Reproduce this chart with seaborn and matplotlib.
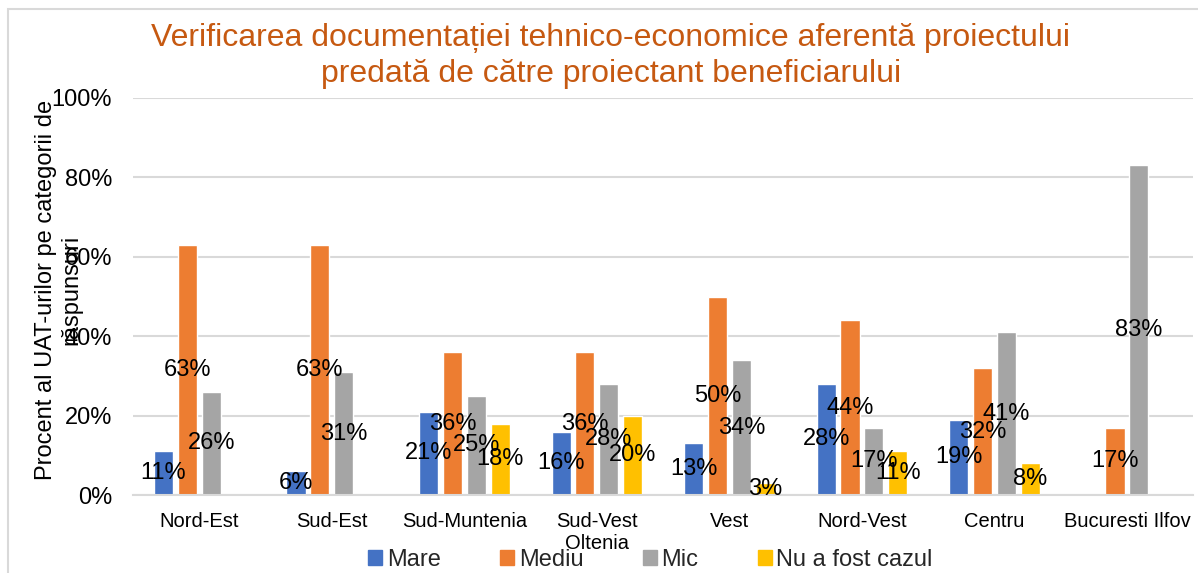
import numpy as np
import pandas as pd
import matplotlib
matplotlib.use("Agg")
import matplotlib.pyplot as plt
import seaborn as sns
from matplotlib.patches import Rectangle

regions = ["Nord-Est", "Sud-Est", "Sud-Muntenia", "Sud-Vest\nOltenia", "Vest",
           "Nord-Vest", "Centru", "Bucuresti Ilfov"]
series = ["Mare", "Mediu", "Mic", "Nu a fost cazul"]
mare = [11, 6, 21, 16, 13, 28, 19, 0]
mediu = [63, 63, 36, 36, 50, 44, 32, 17]
mic = [26, 31, 25, 28, 34, 17, 41, 83]
nu_a_fost = [0, 0, 18, 20, 3, 11, 8, 0]
colors = ["#4472C4", "#ED7D31", "#A5A5A5", "#FFC000"]
yticks = [0, 20, 40, 60, 80, 100]

title = "Verificarea documentației tehnico-economice aferentă proiectului\npredată de către proiectant beneficiarului"
ylabel = "Procent al UAT-urilor pe categorii de\nrăspunsuri"

rows = []
for s, vals in zip(series, [mare, mediu, mic, nu_a_fost]):
    for r, v in zip(regions, vals):
        rows.append({"Regiune": r, "Categorie": s, "Valoare": v})
df = pd.DataFrame(rows)

sns.set_theme(style="white")
plt.rcParams["font.family"] = ["Liberation Sans", "DejaVu Sans"]

fig = plt.figure(figsize=(11.98, 5.73), dpi=100)
ax = fig.add_axes([0.111, 0.136, 0.885, 0.693])

sns.barplot(data=df, x="Regiune", y="Valoare", hue="Categorie", hue_order=series,
            palette=colors, width=0.72, gap=0.2, ax=ax, legend=False,
            saturation=1, errorbar=None)

for cont, vals in zip(ax.containers, [mare, mediu, mic, nu_a_fost]):
    labels = [f"{v}%" if v > 0 else "" for v in vals]
    ax.bar_label(cont, labels=labels, label_type="center", fontsize=17, color="black")

ax.set_ylim(0, 100)
ax.set_yticks(yticks)
ax.set_yticklabels([f"{t}%" for t in yticks], fontsize=17, color="black")
ax.tick_params(axis="x", labelsize=14.5, colors="black", length=0, pad=12)
ax.tick_params(axis="y", length=0, pad=15)
ax.set_xlabel("")
ax.set_xlim(-0.5, len(regions) - 0.5)
ax.yaxis.grid(True, color="#D9D9D9", linewidth=1.5)
ax.set_axisbelow(True)
for sp in ["top", "right", "left"]:
    ax.spines[sp].set_visible(False)
ax.spines["bottom"].set_color("#D9D9D9")
ax.spines["bottom"].set_linewidth(1.5)

ax.set_ylabel(ylabel, fontsize=17, color="black", multialignment="center")
ax.yaxis.set_label_coords(-0.048, 0.516)

fig.text(0.51, 1 - 56 / 573, title, ha="center", va="center", fontsize=23,
         color="#C65911", linespacing=1.25)

handles = [Rectangle((0, 0), 1, 1, color=c) for c in colors]
fig.legend(handles, series, loc="center", bbox_to_anchor=(0.543, 1 - 560 / 573),
           ncol=4, frameon=False, fontsize=17, handlelength=0.6, handleheight=0.6,
           handletextpad=0.2, columnspacing=2.5, borderpad=0)

fig.patches.append(Rectangle((0.007, -0.1), 1.2, 1.1 - 9 / 573, transform=fig.transFigure,
                             fill=False, edgecolor="#D9D9D9", linewidth=1.5))

fig.savefig("out.png", dpi=100)
